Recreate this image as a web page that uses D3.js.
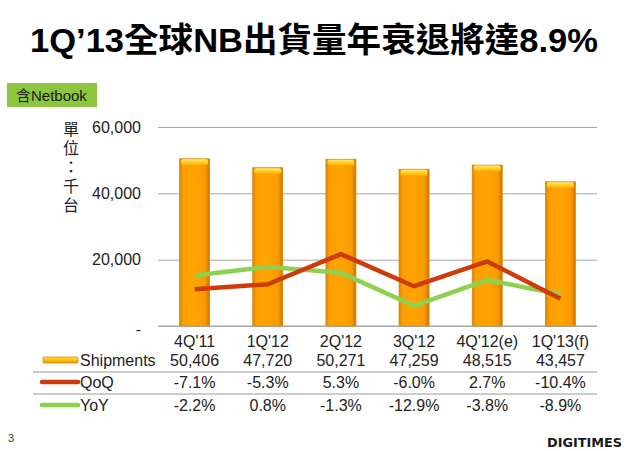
<!DOCTYPE html>
<html>
<head>
<meta charset="utf-8">
<script src="https://cdn.jsdelivr.net/npm/d3@7/dist/d3.min.js"></script>
<style>
  html, body { margin: 0; padding: 0; background: #fff; }
  svg { display: block; }
  text { font-family: "Liberation Sans", Arial, "Noto Sans CJK TC", sans-serif; }
</style>
</head>
<body>
<svg id="chart" width="626" height="451"></svg>
<script>
// Quarterly notebook shipments (thousand units) with QoQ / YoY growth
const quarters = ["4Q'11", "1Q'12", "2Q'12", "3Q'12", "4Q'12(e)", "1Q'13(f)"];
const shipments = [50406, 47720, 50271, 47259, 48515, 43457];
const qoq = [-7.1, -5.3, 5.3, -6.0, 2.7, -10.4];
const yoy = [-2.2, 0.8, -1.3, -12.9, -3.8, -8.9];
const yTicks = [0, 20000, 40000, 60000];
const pctDomain = [-20, 50];

const svg = d3.select("#chart");
const cjk = "\"Noto Sans CJK TC\", \"Liberation Sans\", sans-serif";

// Title
svg.append("text")
  .attr("x", 30).attr("y", 52)
  .attr("textLength", 568).attr("lengthAdjust", "spacingAndGlyphs")
  .style("font-size", "34px").style("font-weight", "bold").attr("fill", "#000")
  .style("font-family", "\"Liberation Sans\", \"Noto Sans CJK TC\", sans-serif")
  .text("1Q\u201913全球NB出貨量年衰退將達8.9%");

// Badge
svg.append("rect").attr("x", 7).attr("y", 83).attr("width", 90).attr("height", 24).attr("fill", "#8cc63f");
svg.append("text").attr("x", 16).attr("y", 101)
  .style("font-size", "15px").attr("fill", "#1a1a1a")
  .style("font-family", "\"Liberation Sans\", \"Noto Sans CJK TC\", sans-serif")
  .text("含Netbook");

// Scales
const x = d3.scaleBand().domain(quarters).range([158, 597]).paddingInner(0.59).paddingOuter(0.295);
const y = d3.scaleLinear().domain([0, 60000]).range([326, 127]);
const yPct = d3.scaleLinear().domain(pctDomain).range([326, 127]);
const cx = d => x(d) + x.bandwidth() / 2;

// Gridlines via axis
const yAxis = d3.axisLeft(y).tickValues(yTicks).tickSize(-(597 - 158)).tickPadding(17)
  .tickFormat(d => d === 0 ? "-" : d3.format(",")(d));
const gy = svg.append("g").attr("transform", "translate(158,0)").call(yAxis);
gy.select(".domain").remove();
gy.selectAll(".tick line").attr("stroke", "#a6a6a6").attr("stroke-width", 1);
gy.selectAll(".tick text").style("font-size", "16px").attr("fill", "#222")
  .attr("dy", d => d === 0 ? "0.55em" : "0.32em");

// Unit label, set vertically
svg.append("text")
  .attr("x", 71).attr("y", 121)
  .style("writing-mode", "vertical-rl").style("text-orientation", "upright")
  .style("letter-spacing", "3px")
  .style("font-size", "16px").style("font-family", cjk).attr("fill", "#222")
  .text("單位：千台");

// Gradients
const defs = svg.append("defs");
const gBar = defs.append("linearGradient").attr("id", "barGrad").attr("x1", 0).attr("x2", 1).attr("y1", 0).attr("y2", 0);
[["0%", "#d98300"], ["12%", "#ff9f00"], ["50%", "#ffa500"], ["85%", "#fb9a00"], ["100%", "#c87400"]]
  .forEach(([o, c]) => gBar.append("stop").attr("offset", o).attr("stop-color", c));
const gCap = defs.append("linearGradient").attr("id", "capGrad").attr("x1", 0).attr("x2", 0).attr("y1", 0).attr("y2", 1);
[["0%", "#ffe680"], ["45%", "#ffd21f"], ["100%", "#ffa800"]]
  .forEach(([o, c]) => gCap.append("stop").attr("offset", o).attr("stop-color", c));
const gSw = defs.append("linearGradient").attr("id", "swGrad").attr("x1", 0).attr("x2", 0).attr("y1", 0).attr("y2", 1);
[["0%", "#ffe066"], ["50%", "#ffc000"], ["100%", "#e89a00"]]
  .forEach(([o, c]) => gSw.append("stop").attr("offset", o).attr("stop-color", c));

// Bars
const bars = svg.append("g");
bars.selectAll("rect.bar").data(shipments).join("rect").attr("class", "bar")
  .attr("x", (d, i) => x(quarters[i])).attr("width", x.bandwidth())
  .attr("y", d => y(d)).attr("height", d => y(0) - y(d))
  .attr("fill", "url(#barGrad)").attr("stroke", "#d08a10").attr("stroke-width", 0.8);
bars.selectAll("rect.cap").data(shipments).join("rect").attr("class", "cap")
  .attr("x", (d, i) => x(quarters[i]) + 1.5).attr("width", x.bandwidth() - 3)
  .attr("y", d => y(d) + 0.5).attr("height", 6).attr("rx", 2)
  .attr("fill", "url(#capGrad)");

// Baseline over bars
svg.append("line").attr("x1", 158).attr("x2", 597).attr("y1", y(0)).attr("y2", y(0))
  .attr("stroke", "#a6a6a6").attr("stroke-width", 1);

// Growth lines on the secondary percentage scale
const line = d3.line().x((d, i) => cx(quarters[i])).y(d => yPct(d));
svg.append("path").datum(yoy).attr("d", line).attr("fill", "none")
  .attr("stroke", "#8ed14f").attr("stroke-width", 4.5).attr("stroke-linejoin", "round");
svg.append("path").datum(qoq).attr("d", line).attr("fill", "none")
  .attr("stroke", "#cf3a0a").attr("stroke-width", 4.5).attr("stroke-linejoin", "round");

// Data table
const tbl = svg.append("g").style("font-size", "16px").attr("fill", "#222");
tbl.selectAll("text.hdr").data(quarters).join("text").attr("class", "hdr")
  .attr("x", d => cx(d)).attr("y", 347).attr("text-anchor", "middle").text(d => d);

const pct = d => d.toFixed(1) + "%";
const rows = [
  { name: "Shipments", vals: shipments.map(d3.format(",")), y: 366 },
  { name: "QoQ", vals: qoq.map(pct), y: 388 },
  { name: "YoY", vals: yoy.map(pct), y: 411 }
];
rows.forEach(r => {
  tbl.append("text").attr("x", 80).attr("y", r.y).text(r.name);
  tbl.selectAll(null).data(r.vals).join("text")
    .attr("x", (d, i) => cx(quarters[i])).attr("y", r.y).attr("text-anchor", "middle").text(d => d);
});
[372, 394].forEach(yy => svg.append("line").attr("x1", 33).attr("x2", 597)
  .attr("y1", yy).attr("y2", yy).attr("stroke", "#999").attr("stroke-width", 1.2));

// Legend keys
svg.append("rect").attr("x", 43).attr("y", 357).attr("width", 35).attr("height", 6)
  .attr("fill", "url(#swGrad)").attr("stroke", "#d08a10").attr("stroke-width", 0.8).attr("rx", 1);
svg.append("line").attr("x1", 42).attr("x2", 78).attr("y1", 382).attr("y2", 382)
  .attr("stroke", "#cf3a0a").attr("stroke-width", 4.5).attr("stroke-linecap", "round");
svg.append("line").attr("x1", 42).attr("x2", 78).attr("y1", 405).attr("y2", 405)
  .attr("stroke", "#8ed14f").attr("stroke-width", 4.5).attr("stroke-linecap", "round");

// Footer
svg.append("text").attr("x", 8).attr("y", 442).style("font-size", "11px").attr("fill", "#444").text("3");
svg.append("text").attr("x", 547).attr("y", 447).attr("textLength", 75).attr("lengthAdjust", "spacingAndGlyphs")
  .style("font-size", "12px").style("font-weight", "bold").attr("fill", "#1a1a1a")
  .style("font-family", "\"DejaVu Sans\", sans-serif").text("DIGITIMES");
</script>
</body>
</html>
